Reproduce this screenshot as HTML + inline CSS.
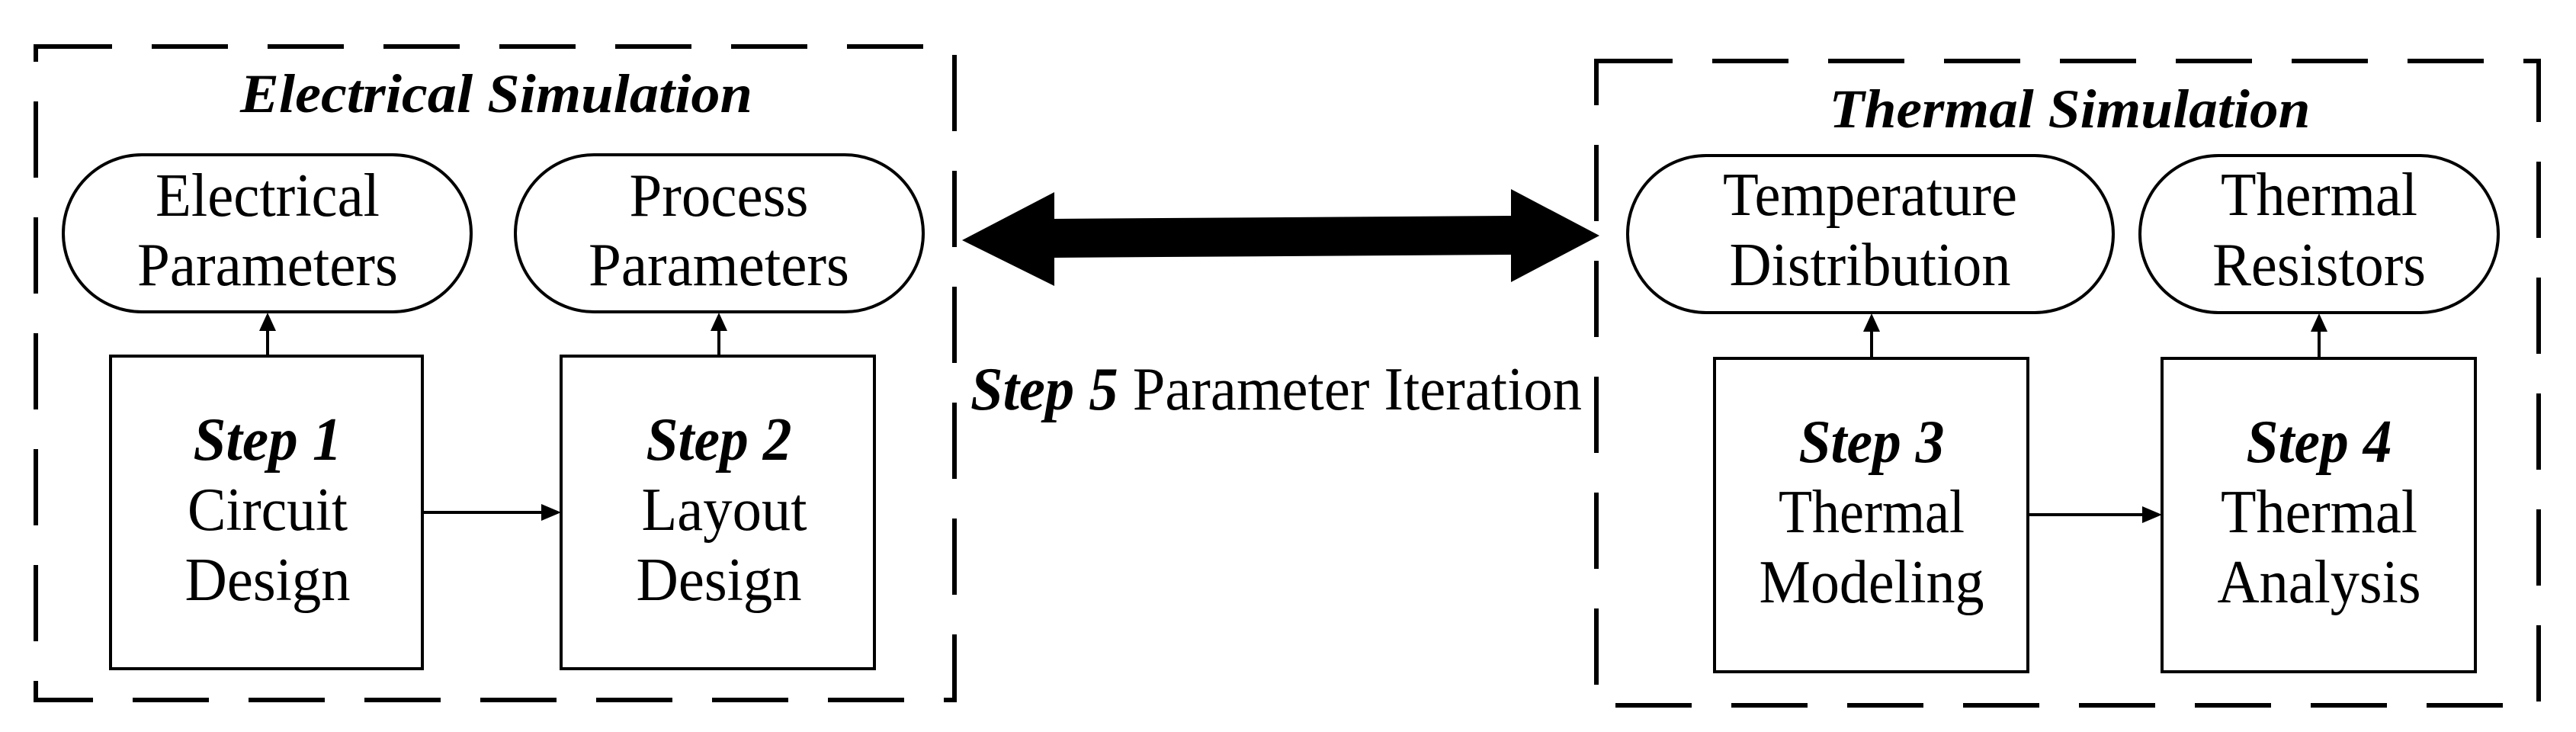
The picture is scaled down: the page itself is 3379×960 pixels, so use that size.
<!DOCTYPE html>
<html><head><meta charset="utf-8"><style>
html,body{margin:0;padding:0;background:#fff;}
svg{display:block;}
text{font-family:"Liberation Serif","Times New Roman",serif;fill:#000;}
.t{font-size:80px;text-anchor:middle;}
.b{font-weight:bold;font-style:italic;}
</style></head><body>
<svg width="3379" height="960" viewBox="0 0 3379 960" xmlns="http://www.w3.org/2000/svg">
<rect x="47" y="61" width="1205" height="857" fill="none" stroke="#000" stroke-width="6" stroke-dasharray="100 52"/>
<rect x="2094" y="80" width="1236" height="845" fill="none" stroke="#000" stroke-width="6" stroke-dasharray="100 52"/>
<text x="651" y="147" class="b" style="font-size:72px;text-anchor:middle" textLength="672" lengthAdjust="spacingAndGlyphs">Electrical Simulation</text>
<text x="2715" y="167" class="b" style="font-size:72px;text-anchor:middle" textLength="631" lengthAdjust="spacingAndGlyphs">Thermal Simulation</text>

<g fill="none" stroke="#000" stroke-width="4">
<rect x="83" y="203" width="535" height="206" rx="103"/>
<rect x="676" y="203" width="535" height="206" rx="103"/>
<rect x="2135" y="204" width="637" height="206" rx="103"/>
<rect x="2807" y="204" width="470" height="206" rx="103"/>
<rect x="145" y="467" width="409" height="410"/>
<rect x="736" y="467" width="411" height="410"/>
<rect x="2249" y="470" width="411" height="411"/>
<rect x="2836" y="470" width="411" height="411"/>
<line x1="351" y1="467" x2="351" y2="430"/>
<line x1="943" y1="467" x2="943" y2="430"/>
<line x1="2455" y1="470" x2="2455" y2="432"/>
<line x1="3042" y1="470" x2="3042" y2="432"/>
<line x1="554" y1="672" x2="712" y2="672"/>
<line x1="2660" y1="675" x2="2812" y2="675"/>
</g>
<g fill="#000">
<polygon points="351,410 340,434 362,434"/>
<polygon points="943,410 932,434 954,434"/>
<polygon points="2455,411 2444,435 2466,435"/>
<polygon points="3042,411 3031,435 3053,435"/>
<polygon points="736,672 710,661 710,683"/>
<polygon points="2836,675 2810,664 2810,686"/>
<polygon points="1262,315 1383,252 1383,287 1982,283 1982,248 2098,309 1982,370 1982,334 1383,338 1383,375"/>
</g>

<text class="t" x="351" y="283" textLength="294" lengthAdjust="spacingAndGlyphs">Electrical</text>
<text class="t" x="351" y="374" textLength="342" lengthAdjust="spacingAndGlyphs">Parameters</text>
<text class="t" x="943" y="283" textLength="235" lengthAdjust="spacingAndGlyphs">Process</text>
<text class="t" x="943" y="374" textLength="342" lengthAdjust="spacingAndGlyphs">Parameters</text>
<text class="t" x="2453" y="282" textLength="386" lengthAdjust="spacingAndGlyphs">Temperature</text>
<text class="t" x="2453" y="374" textLength="369" lengthAdjust="spacingAndGlyphs">Distribution</text>
<text class="t" x="3042" y="282" textLength="258" lengthAdjust="spacingAndGlyphs">Thermal</text>
<text class="t" x="3042" y="374" textLength="280" lengthAdjust="spacingAndGlyphs">Resistors</text>

<text class="t b" x="351" y="603" textLength="195" lengthAdjust="spacingAndGlyphs">Step 1</text>
<text class="t" x="351" y="695" textLength="210" lengthAdjust="spacingAndGlyphs">Circuit</text>
<text class="t" x="351" y="787" textLength="217" lengthAdjust="spacingAndGlyphs">Design</text>
<text class="t b" x="943" y="603" textLength="191" lengthAdjust="spacingAndGlyphs">Step 2</text>
<text class="t" x="950" y="695" textLength="217" lengthAdjust="spacingAndGlyphs">Layout</text>
<text class="t" x="943" y="787" textLength="217" lengthAdjust="spacingAndGlyphs">Design</text>
<text class="t b" x="2455" y="606" textLength="191" lengthAdjust="spacingAndGlyphs">Step 3</text>
<text class="t" x="2455" y="698" textLength="244" lengthAdjust="spacingAndGlyphs">Thermal</text>
<text class="t" x="2455" y="790" textLength="295" lengthAdjust="spacingAndGlyphs">Modeling</text>
<text class="t b" x="3042" y="606" textLength="191" lengthAdjust="spacingAndGlyphs">Step 4</text>
<text class="t" x="3042" y="698" textLength="258" lengthAdjust="spacingAndGlyphs">Thermal</text>
<text class="t" x="3042" y="790" textLength="267" lengthAdjust="spacingAndGlyphs">Analysis</text>

<text x="1273" y="537" style="font-size:80px" textLength="802" lengthAdjust="spacingAndGlyphs"><tspan class="b">Step 5</tspan> Parameter Iteration</text>
</svg>
</body></html>
